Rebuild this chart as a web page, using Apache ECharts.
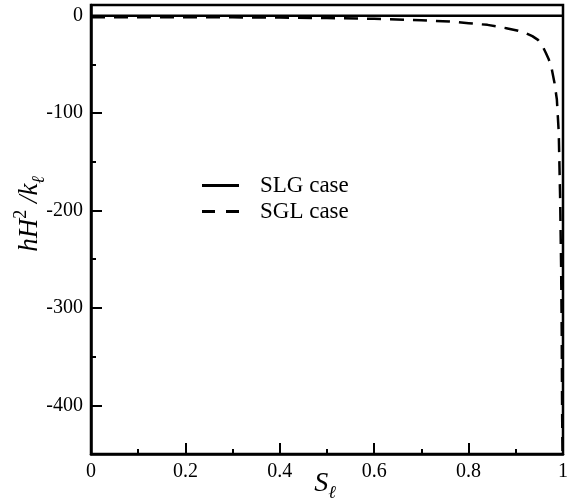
<!DOCTYPE html>
<html>
<head>
<meta charset="utf-8">
<script src="https://cdn.jsdelivr.net/npm/echarts@6/dist/echarts.min.js"></script>
<style>
  html, body { margin: 0; padding: 0; background: #fff; }
  #chart { width: 571px; height: 504px; }
</style>
</head>
<body>
<div id="chart"></div>
<script>
// SLG case: flat at zero
var slgX = [0, 1];
var slgY = [0, 0];

// SGL case
var sglX = [0, 0.1, 0.2, 0.3, 0.4, 0.5, 0.6, 0.7, 0.76, 0.8, 0.84, 0.88, 0.905, 0.922, 0.935, 0.947,
    0.956, 0.964, 0.97, 0.975, 0.982, 0.987, 0.991, 0.994, 0.996, 0.9973, 0.998, 0.9985, 0.999];
var sglY = [-1.5, -1.5, -1.6, -1.7, -1.9, -2.4, -3.2, -4.6, -6, -7.7, -9.4, -12.8, -15.5, -18, -21, -24.8,
    -30.5, -38.5, -45, -52, -69, -86, -120, -189, -257, -325, -394, -428, -450];

var xMajorTicks = [0, 0.2, 0.4, 0.6, 0.8, 1];
var xMinorTicks = [0.1, 0.3, 0.5, 0.7, 0.9];
var yMajorTicks = [0, -100, -200, -300, -400];
var yMinorTicks = [-50, -150, -250, -350, -450];

var serif = '"Liberation Serif", "DejaVu Serif", serif';

function pairs(xs, ys) {
    let out = [];
    for (let i = 0; i < xs.length; i++) {
        out.push([xs[i], ys[i]]);
    }
    return out;
}

var myChart = echarts.init(document.getElementById('chart'));

// two overlapping axes per side: long ticks + labels, then short minor ticks
function axisPair(pos, min, max, majors, minors, extra) {
    let major = {
        type: 'value', min: min, max: max, position: pos,
        axisLine: {show: true, onZero: false, lineStyle: {color: '#000', width: 2.5}},
        axisTick: {show: true, inside: true, length: 11, customValues: majors,
            lineStyle: {color: '#000', width: 2}},
        axisLabel: {show: true, customValues: majors, color: '#000', fontFamily: serif, fontSize: 20},
        splitLine: {show: false}
    };
    Object.assign(major.axisLabel, extra);
    let minor = {
        type: 'value', min: min, max: max, position: pos,
        axisLine: {show: false, onZero: false},
        axisTick: {show: true, inside: true, length: 5, customValues: minors,
            lineStyle: {color: '#000', width: 2}},
        axisLabel: {show: false},
        splitLine: {show: false}
    };
    return [major, minor];
}

var xAxes = axisPair('bottom', 0, 1, xMajorTicks, xMinorTicks, {
    margin: 8,
    formatter: function (v) { return String(v); }
});
var yAxes = axisPair('left', -450, 11, yMajorTicks, yMinorTicks, {margin: 8});

myChart.setOption({
    animation: false,
    backgroundColor: '#fff',
    grid: {
        left: 91, right: 4, top: 5, bottom: 50,
        show: true, borderColor: '#000', borderWidth: 2.5, backgroundColor: 'transparent'
    },
    legend: {
        orient: 'vertical',
        left: 202, top: 174, padding: 0,
        itemWidth: 37, itemHeight: 3, itemGap: 3,
        selectedMode: false,
        itemStyle: {color: '#000', borderWidth: 0},
        lineStyle: {width: 0},
        textStyle: {color: '#000', fontFamily: serif, fontSize: 23, padding: [0, 0, 0, 16]},
        data: [
            {name: 'SLG case', icon: 'path://M0,0h37v3h-37z'},
            {name: 'SGL case', icon: 'path://M0,0h13v3h-13zM24,0h13v3h-13z'}
        ]
    },
    xAxis: xAxes,
    yAxis: yAxes,
    series: [
        {
            name: 'SLG case', type: 'line',
            symbol: 'none', smooth: false,
            lineStyle: {color: '#000', width: 2.5, type: 'solid'},
            itemStyle: {color: '#000'},
            data: pairs(slgX, slgY)
        },
        {
            name: 'SGL case', type: 'line',
            symbol: 'none', smooth: false,
            lineStyle: {color: '#000', width: 2.5, type: [14, 9]},
            itemStyle: {color: '#000'},
            data: pairs(sglX, sglY)
        }
    ],
    graphic: [
        {
            type: 'text', x: 30, y: 214, rotation: Math.PI / 2,
            style: {
                text: '{i|hH}{sup|2}{i| /k}{sub|ℓ}',
                align: 'center', verticalAlign: 'middle', fill: '#000',
                rich: {
                    i: {fontFamily: serif, fontStyle: 'italic', fontSize: 27, lineHeight: 36},
                    sup: {fontFamily: serif, fontSize: 18, verticalAlign: 'top'},
                    sub: {fontFamily: serif, fontStyle: 'italic', fontSize: 18, verticalAlign: 'bottom'}
                }
            }
        },
        {
            type: 'text', x: 325, y: 484,
            style: {
                text: '{i|S}{sub|ℓ}',
                align: 'center', verticalAlign: 'middle', fill: '#000',
                rich: {
                    i: {fontFamily: serif, fontStyle: 'italic', fontSize: 28, lineHeight: 36},
                    sub: {fontFamily: serif, fontStyle: 'italic', fontSize: 18, verticalAlign: 'bottom'}
                }
            }
        }
    ]
});

window.onresize = function () {
    myChart.resize();
}
</script>
</body>
</html>
